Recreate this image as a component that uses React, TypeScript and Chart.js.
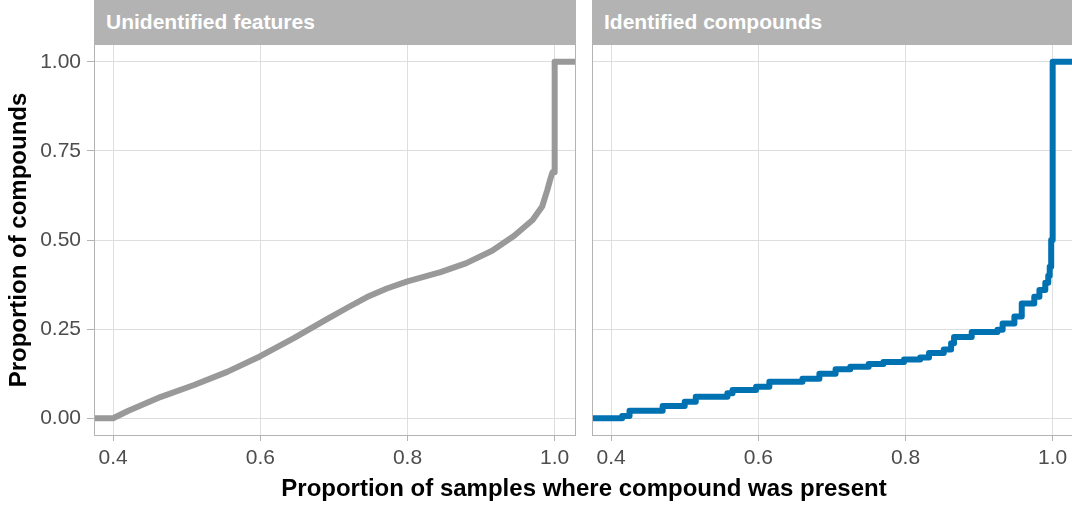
import React, { useEffect, useRef } from 'react';
import { Chart, registerables } from 'chart.js';

Chart.register(...registerables);

const FONT = "'Liberation Sans', Arial, Helvetica, sans-serif";

const X_MIN = 0.374;
const X_MAX = 1.029;
const Y_MIN = -0.05;
const Y_MAX = 1.05;
const X_TICKS = [0.4, 0.6, 0.8, 1.0];
const Y_TICKS = [0, 0.25, 0.5, 0.75, 1.0];

const PANEL_TITLES = ['Unidentified features', 'Identified compounds'];
const Y_TITLE = 'Proportion of compounds';
const X_TITLE = 'Proportion of samples where compound was present';

// Unidentified features: ECDF (dense)
const unidentifiedX = [0.400, 0.420, 0.465, 0.510, 0.555, 0.600, 0.645, 0.690, 0.720, 0.745, 0.772, 0.800, 0.845, 0.880, 0.915, 0.945, 0.970, 0.983, 0.990, 0.994, 0.997, 1.000, 1.000];
const unidentifiedY = [0.000, 0.020, 0.060, 0.093, 0.130, 0.174, 0.224, 0.277, 0.312, 0.340, 0.364, 0.384, 0.410, 0.435, 0.470, 0.512, 0.556, 0.594, 0.640, 0.670, 0.690, 0.690, 1.000];

// Identified compounds: ECDF jumps (x where the step happens, new proportion)
const identifiedX = [0.415, 0.425, 0.470, 0.500, 0.515, 0.558, 0.565, 0.597, 0.615, 0.660, 0.683, 0.705, 0.725, 0.750, 0.770, 0.798, 0.820, 0.832, 0.852, 0.862, 0.866, 0.890, 0.925, 0.932, 0.948, 0.958, 0.975, 0.982, 0.990, 0.994, 0.996, 0.998, 1.000];
const identifiedY = [0.006, 0.021, 0.034, 0.046, 0.060, 0.070, 0.079, 0.088, 0.102, 0.111, 0.125, 0.137, 0.144, 0.152, 0.158, 0.165, 0.170, 0.183, 0.193, 0.210, 0.228, 0.242, 0.248, 0.266, 0.285, 0.322, 0.341, 0.360, 0.380, 0.400, 0.425, 0.500, 1.000];

const GREY_LINE = '#999999';
const BLUE_LINE = '#0072B2';

const panelBorder = {
  id: 'panelBorder',
  afterDatasetsDraw(chart: any) {
    const { ctx, chartArea: a } = chart;
    ctx.save();
    ctx.strokeStyle = '#B3B3B3';
    ctx.lineWidth = 1;
    ctx.strokeRect(a.left + 0.5, a.top + 0.5, a.right - a.left - 1, a.bottom - a.top - 1);
    ctx.restore();
  },
};

function buildPoints(xs: number[], ys: number[]) {
  const pts = [{ x: X_MIN, y: 0 }];
  xs.forEach((x, i) => pts.push({ x, y: ys[i] }));
  pts.push({ x: X_MAX, y: 1 });
  return pts;
}

function makeConfig(xs: number[], ys: number[], color: string, stepped: any, showY: boolean): any {
  return {
    type: 'line',
    data: {
      datasets: [
        {
          data: buildPoints(xs, ys),
          borderColor: color,
          borderWidth: 6,
          pointRadius: 0,
          tension: 0,
          stepped,
          borderJoinStyle: 'round',
          borderCapStyle: 'butt',
          fill: false,
        },
      ],
    },
    options: {
      responsive: false,
      maintainAspectRatio: false,
      animation: false,
      layout: { padding: 0 },
      plugins: { legend: { display: false }, tooltip: { enabled: false } },
      scales: {
        x: {
          type: 'linear',
          min: X_MIN,
          max: X_MAX,
          afterBuildTicks: (s: any) => {
            s.ticks = X_TICKS.map((v) => ({ value: v }));
          },
          afterFit: (s: any) => {
            s.height = 40;
            s.paddingLeft = 0;
            s.paddingRight = 0;
          },
          grid: { color: '#DEDEDE', lineWidth: 1, tickColor: '#B3B3B3', tickLength: 5, drawTicks: true },
          border: { display: false },
          ticks: {
            color: '#4D4D4D',
            font: { family: FONT, size: 21 },
            padding: 5,
            maxRotation: 0,
            autoSkip: false,
            callback: (v: any) => Number(v).toFixed(1),
          },
        },
        y: {
          type: 'linear',
          min: Y_MIN,
          max: Y_MAX,
          afterBuildTicks: (s: any) => {
            s.ticks = Y_TICKS.map((v) => ({ value: v }));
          },
          afterFit: (s: any) => {
            s.width = showY ? 94 : 0;
            s.paddingTop = 0;
            s.paddingBottom = 0;
          },
          grid: { color: '#DEDEDE', lineWidth: 1, tickColor: '#B3B3B3', tickLength: 7, drawTicks: showY },
          border: { display: false },
          ticks: {
            display: showY,
            color: '#4D4D4D',
            font: { family: FONT, size: 21 },
            padding: 6,
            autoSkip: false,
            callback: (v: any) => Number(v).toFixed(2),
          },
          title: {
            display: showY,
            text: Y_TITLE,
            color: '#000000',
            font: { family: FONT, size: 24, weight: 'bold' },
            padding: { top: 5, bottom: 0 },
          },
        },
      },
    },
    plugins: [panelBorder],
  };
}

const stripStyle = (left: number): React.CSSProperties => ({
  position: 'absolute',
  left,
  top: 0,
  width: 482,
  height: 44,
  background: '#B3B3B3',
  color: '#FFFFFF',
  fontFamily: FONT,
  fontWeight: 'bold',
  fontSize: 21,
  lineHeight: '44px',
  paddingLeft: 12,
  boxSizing: 'border-box',
  whiteSpace: 'nowrap',
});

export default function App() {
  const leftRef = useRef<HTMLCanvasElement>(null);
  const rightRef = useRef<HTMLCanvasElement>(null);

  useEffect(() => {
    const c1 = new Chart(leftRef.current as HTMLCanvasElement, makeConfig(unidentifiedX, unidentifiedY, GREY_LINE, false, true));
    const c2 = new Chart(rightRef.current as HTMLCanvasElement, makeConfig(identifiedX, identifiedY, BLUE_LINE, 'before', false));
    return () => {
      c1.destroy();
      c2.destroy();
    };
  }, []);

  return (
    <div
      style={{
        position: 'absolute',
        left: 0,
        top: 0,
        width: 1072,
        height: 505,
        overflow: 'hidden',
        background: '#FFFFFF',
      }}
    >
      <div style={stripStyle(94)}>{PANEL_TITLES[0]}</div>
      <div style={stripStyle(592)}>{PANEL_TITLES[1]}</div>
      <canvas ref={leftRef} width={576} height={432} style={{ position: 'absolute', left: 0, top: 44 }} />
      <canvas ref={rightRef} width={482} height={432} style={{ position: 'absolute', left: 592, top: 44 }} />
      <div
        style={{
          position: 'absolute',
          left: 94,
          top: 473,
          width: 980,
          textAlign: 'center',
          fontFamily: FONT,
          fontWeight: 'bold',
          fontSize: 24,
          lineHeight: '30px',
          color: '#000000',
          whiteSpace: 'nowrap',
        }}
      >
        {X_TITLE}
      </div>
    </div>
  );
}
